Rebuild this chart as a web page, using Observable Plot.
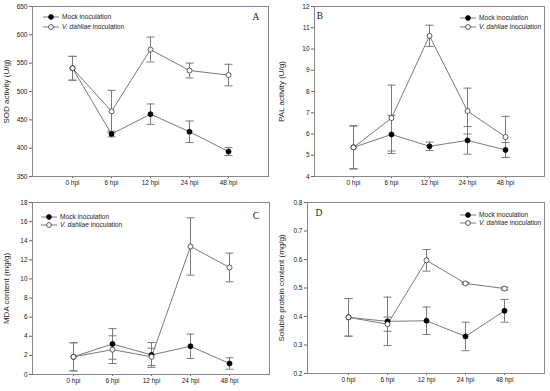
<!DOCTYPE html>
<html>
<head>
<meta charset="utf-8">
<script src="https://cdn.jsdelivr.net/npm/d3@7"></script>
<script src="https://cdn.jsdelivr.net/npm/@observablehq/plot@0.6"></script>
<style>
  html, body { margin: 0; padding: 0; background: white; }
  #wrap { position: relative; width: 550px; height: 391px; overflow: hidden; background: white; font-family: "Liberation Sans", Arial, sans-serif; }
  .panel { position: absolute; }
  .legend { position: absolute; font-size: 6.6px; color: #222; line-height: 1; }
  .legend .row { position: absolute; white-space: nowrap; display: flex; align-items: center; }
  .legend svg { display: block; }
  .letter { position: absolute; font-family: "Liberation Serif", "Times New Roman", serif; font-size: 9.5px; color: #222; transform: translate(-50%, -50%); }
</style>
</head>
<body>
<div id="wrap"></div>
<script>
// ---- data ----
const categories = ["0 hpi", "6 hpi", "12 hpi", "24 hpi", "48 hpi"];
const seriesNames = ["Mock inoculation", "V. dahliae inoculation"];

const sodMock = [541, 425, 460, 429, 394];
const sodMockErr = [21, 5, 18, 19, 7];
const sodVd = [541, 465, 574, 537, 529];
const sodVdErr = [21, 37, 22, 13, 19];
const sodTicks = [350, 400, 450, 500, 550, 600, 650];

const palMock = [5.37, 5.98, 5.42, 5.70, 5.25];
const palMockErr = [1.0, 0.9, 0.2, 0.65, 0.35];
const palVd = [5.37, 6.75, 10.62, 7.08, 5.86];
const palVdErr = [1.02, 1.55, 0.5, 1.08, 0.97];
const palTicks = [4, 5, 6, 7, 8, 9, 10, 11, 12];

const mdaMock = [1.85, 3.2, 2.05, 2.95, 1.15];
const mdaMockErr = [1.47, 1.6, 1.3, 1.28, 0.6];
const mdaVd = [1.85, 2.6, 1.85, 13.4, 11.2];
const mdaVdErr = [1.47, 1.45, 0.9, 3.0, 1.5];
const mdaTicks = [0, 2, 4, 6, 8, 10, 12, 14, 16, 18];

const protMock = [0.397, 0.383, 0.385, 0.33, 0.42];
const protMockErr = [0.066, 0.085, 0.048, 0.05, 0.04];
const protVd = [0.397, 0.373, 0.597, 0.516, 0.498];
const protVdErr = [0.066, 0.025, 0.038, 0.003, 0.005];
const protTicks = [0.2, 0.3, 0.4, 0.5, 0.6, 0.7, 0.8];

// ---- panels ----
const panels = [
  {letter: "A", label: "SOD activity (U/g)", mock: sodMock, mockErr: sodMockErr, vd: sodVd, vdErr: sodVdErr, ticks: sodTicks, fmt: d => d,
   left: 0, top: 0, w: 275, h: 195, m: [6, 7, 19, 32], legend: {x: 43, y: 17, dy: 10}, letterPos: [256, 17]},
  {letter: "B", label: "PAL activity (U/g)", mock: palMock, mockErr: palMockErr, vd: palVd, vdErr: palVdErr, ticks: palTicks, fmt: d => d,
   left: 275, top: 0, w: 275, h: 195, m: [6, 6, 19, 39], legend: {x: 460, y: 18, dy: 9}, letterPos: [320, 16]},
  {letter: "C", label: "MDA content (mg/g)", mock: mdaMock, mockErr: mdaMockErr, vd: mdaVd, vdErr: mdaVdErr, ticks: mdaTicks, fmt: d => d,
   left: 0, top: 195, w: 275, h: 196, m: [7, 6, 17, 32], legend: {x: 41, y: 217, dy: 8}, letterPos: [256, 216]},
  {letter: "D", label: "Soluble protein content (mg/g)", mock: protMock, mockErr: protMockErr, vd: protVd, vdErr: protVdErr, ticks: protTicks, fmt: d3.format(".1f"),
   left: 275, top: 195, w: 275, h: 196, m: [7, 6, 18, 32], legend: {x: 460, y: 215, dy: 8}, letterPos: [319, 213]}
];

const capSymbol = {
  draw(context, size) {
    const w = Math.sqrt(size) * 0.75;
    context.moveTo(-w, 0);
    context.lineTo(w, 0);
  }
};

const lineColor = "#7a7a7a";
const wrap = document.getElementById("wrap");

for (const p of panels) {
  const rows = [];
  categories.forEach((c, i) => {
    rows.push({cat: c, series: seriesNames[0], v: p.mock[i], e: p.mockErr[i]});
    rows.push({cat: c, series: seriesNames[1], v: p.vd[i], e: p.vdErr[i]});
  });
  const mockRows = rows.filter(r => r.series === seriesNames[0]);
  const vdRows = rows.filter(r => r.series === seriesNames[1]);
  const errRows = rows.filter(r => r.e > 0.004 * (p.ticks[p.ticks.length - 1] - p.ticks[0]));

  const chart = Plot.plot({
    width: p.w,
    height: p.h,
    marginTop: p.m[0], marginRight: p.m[1], marginBottom: p.m[2], marginLeft: p.m[3],
    style: {fontFamily: "'Liberation Sans', Arial, sans-serif", fontSize: "6.5px", color: "#222", background: "white"},
    x: {type: "point", domain: categories, padding: 1},
    y: {domain: [p.ticks[0], p.ticks[p.ticks.length - 1]]},
    marks: [
      Plot.axisY({ticks: p.ticks, tickFormat: p.fmt, tickSize: 3, tickPadding: 2, label: null, stroke: "#666"}),
      Plot.axisX({tickSize: 2, tickPadding: 2, label: null, stroke: "#666"}),
      Plot.text([p.label], {text: d => d, frameAnchor: "left", textAnchor: "middle", rotate: -90, dx: -(p.m[3] - 6), fontSize: 8, fill: "#222"}),
      Plot.line(mockRows, {x: "cat", y: "v", stroke: lineColor, strokeWidth: 1}),
      Plot.line(vdRows, {x: "cat", y: "v", stroke: lineColor, strokeWidth: 1}),
      Plot.ruleX(errRows, {x: "cat", y1: d => d.v - d.e, y2: d => d.v + d.e, stroke: lineColor, strokeWidth: 1}),
      Plot.dot(errRows, {x: "cat", y: d => d.v - d.e, symbol: capSymbol, r: 3, stroke: lineColor, strokeWidth: 1, fill: "none"}),
      Plot.dot(errRows, {x: "cat", y: d => d.v + d.e, symbol: capSymbol, r: 3, stroke: lineColor, strokeWidth: 1, fill: "none"}),
      Plot.dot(mockRows, {x: "cat", y: "v", r: 2.5, fill: "black", stroke: "black", strokeWidth: 0.8}),
      Plot.dot(vdRows, {x: "cat", y: "v", r: 2.5, fill: "white", stroke: "#333", strokeWidth: 0.8}),
      Plot.frame({stroke: "#888", strokeWidth: 1})
    ]
  });
  const holder = document.createElement("div");
  holder.className = "panel";
  holder.style.left = p.left + "px";
  holder.style.top = p.top + "px";
  holder.appendChild(chart);
  wrap.appendChild(holder);

  // legend overlay
  const lg = document.createElement("div");
  lg.className = "legend";
  lg.style.left = p.legend.x + "px";
  lg.style.top = "0px";
  seriesNames.forEach((name, k) => {
    const row = document.createElement("div");
    row.className = "row";
    row.style.top = (p.legend.y + k * p.legend.dy - 4) + "px";
    row.style.left = "0px";
    row.style.height = "8px";
    const fill = k === 0 ? "black" : "white";
    const stroke = k === 0 ? "black" : "#333";
    row.innerHTML =
      `<svg width="17" height="8"><line x1="0" y1="4" x2="16" y2="4" stroke="${lineColor}" stroke-width="1"/>` +
      `<circle cx="8" cy="4" r="2.4" fill="${fill}" stroke="${stroke}" stroke-width="0.8"/></svg>` +
      (k === 0 ? `<span style="margin-left:2px">${name}</span>`
               : `<span style="margin-left:2px"><i>V. dahliae</i> inoculation</span>`);
    lg.appendChild(row);
  });
  wrap.appendChild(lg);

  const letter = document.createElement("div");
  letter.className = "letter";
  letter.style.left = p.letterPos[0] + "px";
  letter.style.top = p.letterPos[1] + "px";
  letter.textContent = p.letter;
  wrap.appendChild(letter);
}
</script>
</body>
</html>
